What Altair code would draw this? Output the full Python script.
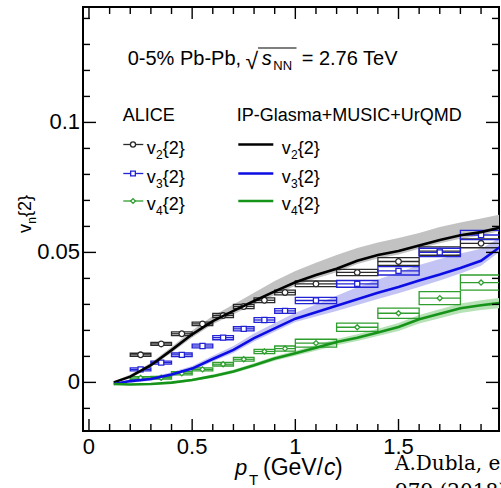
import altair as alt
import pandas as pd

# ---------------- data ----------------
# ALICE 0-5% Pb-Pb, vn{2}
alice_pt = [0.25, 0.35, 0.45, 0.55, 0.65, 0.75, 0.85, 0.95, 1.1, 1.3, 1.5, 1.7, 1.9]
alice_pt_lo = [0.2, 0.3, 0.4, 0.5, 0.6, 0.7, 0.8, 0.9, 1.0, 1.2, 1.4, 1.6, 1.8]
alice_pt_hi = [0.3, 0.4, 0.5, 0.6, 0.7, 0.8, 0.9, 1.0, 1.2, 1.4, 1.6, 1.8, 2.0]
alice_v2 = [0.0106, 0.0148, 0.0187, 0.0225, 0.0257, 0.0292, 0.0316, 0.0346, 0.0379, 0.0423, 0.0465, 0.0505, 0.0535]
alice_v2_sys = [0.0006, 0.0006, 0.0007, 0.0007, 0.0008, 0.0008, 0.0009, 0.0009, 0.0011, 0.0012, 0.0015, 0.0016, 0.0017]
alice_v3 = [0.0050, 0.0076, 0.0106, 0.0140, 0.0172, 0.0206, 0.0240, 0.0275, 0.0315, 0.0379, 0.0429, 0.0500, 0.0567]
alice_v3_sys = [0.0006, 0.0006, 0.0007, 0.0007, 0.0008, 0.0008, 0.0009, 0.0009, 0.0012, 0.0013, 0.0016, 0.0016, 0.0018]
alice_v4 = [0.0017, 0.0018, 0.0035, 0.0050, 0.0070, 0.0089, 0.0119, 0.0130, 0.0151, 0.0212, 0.0266, 0.0324, 0.0384]
alice_v4_sys = [0.0005, 0.0005, 0.0006, 0.0006, 0.0007, 0.0007, 0.0008, 0.0010, 0.0015, 0.0016, 0.0020, 0.0025, 0.0029]

# IP-Glasma+MUSIC+UrQMD
model_pt = [0.12, 0.2, 0.3, 0.4, 0.5, 0.6, 0.7, 0.8, 0.9, 1.0, 1.1, 1.2, 1.3, 1.4, 1.5, 1.6, 1.7, 1.8, 1.9, 1.99]
model_v2 = [0.0000, 0.0022, 0.0066, 0.0124, 0.0185, 0.0236, 0.0275, 0.0313, 0.0350, 0.0385, 0.0413, 0.0437, 0.0468, 0.0490, 0.0505, 0.0527, 0.0548, 0.0566, 0.0578, 0.0595]
model_v2_hi = [0.0003, 0.0030, 0.0076, 0.0136, 0.0200, 0.0255, 0.0300, 0.0345, 0.0390, 0.0428, 0.0460, 0.0490, 0.0517, 0.0538, 0.0555, 0.0575, 0.0598, 0.0615, 0.0630, 0.0645]
model_v2_lo = [-0.0003, 0.0016, 0.0058, 0.0114, 0.0173, 0.0224, 0.0262, 0.0300, 0.0336, 0.0372, 0.0400, 0.0424, 0.0455, 0.0477, 0.0492, 0.0514, 0.0535, 0.0553, 0.0565, 0.0582]
model_v3 = [-0.0006, 0.0005, 0.0013, 0.0030, 0.0053, 0.0090, 0.0125, 0.0170, 0.0208, 0.0245, 0.0270, 0.0295, 0.0320, 0.0345, 0.0367, 0.0392, 0.0415, 0.0440, 0.0468, 0.0520]
model_v3_hi = [-0.0003, 0.0011, 0.0021, 0.0039, 0.0063, 0.0102, 0.0140, 0.0188, 0.0228, 0.0268, 0.0300, 0.0333, 0.0366, 0.0396, 0.0423, 0.0452, 0.0475, 0.0496, 0.0514, 0.0556]
model_v3_lo = [-0.0009, -0.0001, 0.0006, 0.0022, 0.0045, 0.0080, 0.0113, 0.0157, 0.0195, 0.0232, 0.0253, 0.0275, 0.0298, 0.0321, 0.0343, 0.0367, 0.0392, 0.0419, 0.0449, 0.0502]
model_v4 = [-0.0006, -0.0008, -0.0006, -0.0001, 0.0009, 0.0024, 0.0042, 0.0066, 0.0092, 0.0112, 0.0133, 0.0155, 0.0172, 0.0192, 0.0213, 0.0243, 0.0264, 0.0285, 0.0297, 0.0305]
model_v4_hi = [-0.0004, -0.0005, -0.0003, 0.0003, 0.0014, 0.0030, 0.0049, 0.0074, 0.0101, 0.0122, 0.0144, 0.0167, 0.0185, 0.0206, 0.0228, 0.0259, 0.0281, 0.0303, 0.0316, 0.0325]
model_v4_lo = [-0.0008, -0.0011, -0.0009, -0.0005, 0.0004, 0.0018, 0.0035, 0.0058, 0.0083, 0.0102, 0.0122, 0.0143, 0.0159, 0.0178, 0.0198, 0.0227, 0.0247, 0.0267, 0.0278, 0.0285]

# axis ticks / labels
x_labels = [0, 0.5, 1.0, 1.5]
x_label_text = ["0", "0.5", "1", "1.5"]
x_minor = [0.1, 0.2, 0.3, 0.4, 0.6, 0.7, 0.8, 0.9, 1.1, 1.2, 1.3, 1.4, 1.6, 1.7, 1.8, 1.9]
y_labels = [0, 0.05, 0.1]
y_label_text = ["0", "0.05", "0.1"]
y_minor = [-0.01, 0.01, 0.02, 0.03, 0.04, 0.06, 0.07, 0.08, 0.09, 0.11, 0.12, 0.13, 0.14]

# ---------------- layout / style ----------------
W, H = 416, 424
FONT = "Liberation Sans"
xs = alt.Scale(domain=[-0.029, 1.987], nice=False, zero=False)
ys = alt.Scale(domain=[-0.0187, 0.1444], nice=False, zero=False)

ALICE_COL = {"2": "#2a2a2a", "3": "#2323d6", "4": "#2f9e2f"}
LINE_COL = {"2": "#000000", "3": "#0c0ce4", "4": "#16941a"}
BAND_COL = {"2": "#c2c2c2", "3": "#c4c4f4", "4": "#b6e2b6"}
SHAPE = {"2": "circle", "3": "square", "4": "diamond"}

model_df = pd.DataFrame({
    "pt": model_pt,
    "v2": model_v2, "v2_lo": model_v2_lo, "v2_hi": model_v2_hi,
    "v3": model_v3, "v3_lo": model_v3_lo, "v3_hi": model_v3_hi,
    "v4": model_v4, "v4_lo": model_v4_lo, "v4_hi": model_v4_hi,
})

alice_vals = {"2": (alice_v2, alice_v2_sys), "3": (alice_v3, alice_v3_sys), "4": (alice_v4, alice_v4_sys)}

one = pd.DataFrame({"a": [0]})

layers = []

# bands
for n in ["2", "3", "4"]:
    layers.append(
        alt.Chart(model_df).mark_area(color=BAND_COL[n], opacity=1, clip=True).encode(
            x=alt.X("pt:Q", scale=xs, axis=None),
            y=alt.Y(f"v{n}_lo:Q", scale=ys, axis=None),
            y2=alt.Y2(f"v{n}_hi:Q"),
        )
    )

# ALICE boxes, bin bars, markers
for n in ["2", "3", "4"]:
    v, s = alice_vals[n]
    df = pd.DataFrame({
        "pt": alice_pt, "lo": alice_pt_lo, "hi": alice_pt_hi, "v": v,
        "vlo": [a - b for a, b in zip(v, s)], "vhi": [a + b for a, b in zip(v, s)],
    })
    base = alt.Chart(df)
    layers.append(
        base.mark_rect(fillOpacity=0, stroke=ALICE_COL[n], strokeWidth=1.3, clip=True).encode(
            x=alt.X("lo:Q", scale=xs, axis=None), x2="hi:Q",
            y=alt.Y("vlo:Q", scale=ys, axis=None), y2="vhi:Q",
        )
    )
    layers.append(
        base.mark_rule(color=ALICE_COL[n], strokeWidth=1.3, clip=True).encode(
            x=alt.X("lo:Q", scale=xs, axis=None), x2="hi:Q",
            y=alt.Y("v:Q", scale=ys, axis=None),
        )
    )
    layers.append(
        base.mark_point(shape=SHAPE[n], size=32 if n == "2" else 26, fill="white", fillOpacity=1,
                        stroke=ALICE_COL[n], strokeWidth=1.3, opacity=1, clip=True).encode(
            x=alt.X("pt:Q", scale=xs, axis=None),
            y=alt.Y("v:Q", scale=ys, axis=None),
        )
    )

# model lines
for n in ["2", "3", "4"]:
    layers.append(
        alt.Chart(model_df).mark_line(color=LINE_COL[n], strokeWidth=2.6, clip=True).encode(
            x=alt.X("pt:Q", scale=xs, axis=None),
            y=alt.Y(f"v{n}:Q", scale=ys, axis=None),
        )
    )

# inward ticks on all four sides
def xticks(vals, length):
    d = alt.Chart(pd.DataFrame({"t": vals}))
    return [
        d.mark_rule(color="black", strokeWidth=1.4).encode(
            x=alt.X("t:Q", scale=xs, axis=None), y=alt.value(H), y2=alt.value(H - length)),
        d.mark_rule(color="black", strokeWidth=1.4).encode(
            x=alt.X("t:Q", scale=xs, axis=None), y=alt.value(0), y2=alt.value(length)),
    ]

def yticks(vals, length):
    d = alt.Chart(pd.DataFrame({"t": vals}))
    return [
        d.mark_rule(color="black", strokeWidth=1.4).encode(
            y=alt.Y("t:Q", scale=ys, axis=None), x=alt.value(0), x2=alt.value(length)),
        d.mark_rule(color="black", strokeWidth=1.4).encode(
            y=alt.Y("t:Q", scale=ys, axis=None), x=alt.value(W), x2=alt.value(W - length)),
    ]

layers += xticks(x_labels, 12) + xticks(x_minor, 7) + yticks(y_labels, 13) + yticks(y_minor, 7)

# tick labels
layers.append(
    alt.Chart(pd.DataFrame({"t": x_labels, "lab": x_label_text})).mark_text(
        fontSize=22, font=FONT, color="black", align="center", baseline="top").encode(
        x=alt.X("t:Q", scale=xs, axis=None), y=alt.value(H + 6), text="lab:N")
)
layers.append(
    alt.Chart(pd.DataFrame({"t": y_labels, "lab": y_label_text})).mark_text(
        fontSize=22, font=FONT, color="black", align="right", baseline="middle").encode(
        y=alt.Y("t:Q", scale=ys, axis=None), x=alt.value(-3), text="lab:N")
)


# ---------------- text helpers ----------------
def txt(s, x, y, size=18, style="normal", font=FONT, angle=0, color="black"):
    return alt.Chart(one).mark_text(text=s, fontSize=size, font=font, fontStyle=style, angle=angle,
                                    align="left", baseline="alphabetic", color=color).encode(
        x=alt.value(x), y=alt.value(y))


def hline(x1, x2, y, color, width):
    return alt.Chart(one).mark_rule(color=color, strokeWidth=width).encode(
        x=alt.value(x1), x2=alt.value(x2), y=alt.value(y))


# headline
layers += [
    txt("0-5% Pb-Pb,", 44.7, 58, 20),
    txt("\u221a", 162.5, 62, 23),
    hline(175.0, 213.5, 41.0, "black", 1.2),
    txt("s", 178.7, 58, 20, "italic"),
    txt("NN", 190.3, 63, 13),
    txt("= 2.76 TeV", 218.7, 58, 20),
]

# legend
layers += [txt("ALICE", 39.7, 113.7, 18), txt("IP-Glasma+MUSIC+UrQMD", 153.7, 113.7, 18)]
sym_y = [137.5, 166.5, 194.0]
base_y = [147.0, 175.5, 202.5]
for i, n in enumerate(["2", "3", "4"]):
    sy, by = sym_y[i], base_y[i]
    layers.append(hline(40.3, 60.3, sy, ALICE_COL[n], 1.3))
    layers.append(
        alt.Chart(one).mark_point(shape=SHAPE[n], size=26 if n == "2" else 22, fill="white", fillOpacity=1,
                                  stroke=ALICE_COL[n], strokeWidth=1.3, opacity=1).encode(
            x=alt.value(50.0), y=alt.value(sy)))
    layers.append(hline(155.3, 190.3, sy, LINE_COL[n], 2.6))
    for x0 in (63.7, 198.7):
        layers += [txt("v", x0, by, 18), txt(n, x0 + 9.2, by + 5, 12), txt("{2}", x0 + 16.0, by, 18)]

# axis titles
layers += [
    txt("v", -52, 226, 18, angle=270),
    txt("n", -47.5, 216.8, 12, angle=270),
    txt("{2}", -52, 210.0, 18, angle=270),
    txt("p", 152, 468, 22, "italic"),
    txt("T", 166, 478, 15),
    txt("(GeV/", 180, 468, 23),
    txt("c", 241, 468, 23, "italic"),
    txt(")", 252, 468, 23),
]

# citation overlay (cut by the right/bottom edge, as in the original slide)
layers += [
    txt("A.Dubla, et al., Nucl. Phys. A", 312, 463, 20, font="DejaVu Serif"),
    txt("979 (2018) 251", 312, 491, 20, font="DejaVu Serif"),
]

chart = alt.layer(*layers).properties(
    width=W, height=H,
    padding={"left": 83, "top": 7, "right": 2, "bottom": 57},
    autosize=alt.AutoSizeParams(type="none"),
    background="white",
).configure_view(stroke="black", strokeWidth=2)

chart.save("out.html", embed_options={"renderer": "svg", "actions": False})
